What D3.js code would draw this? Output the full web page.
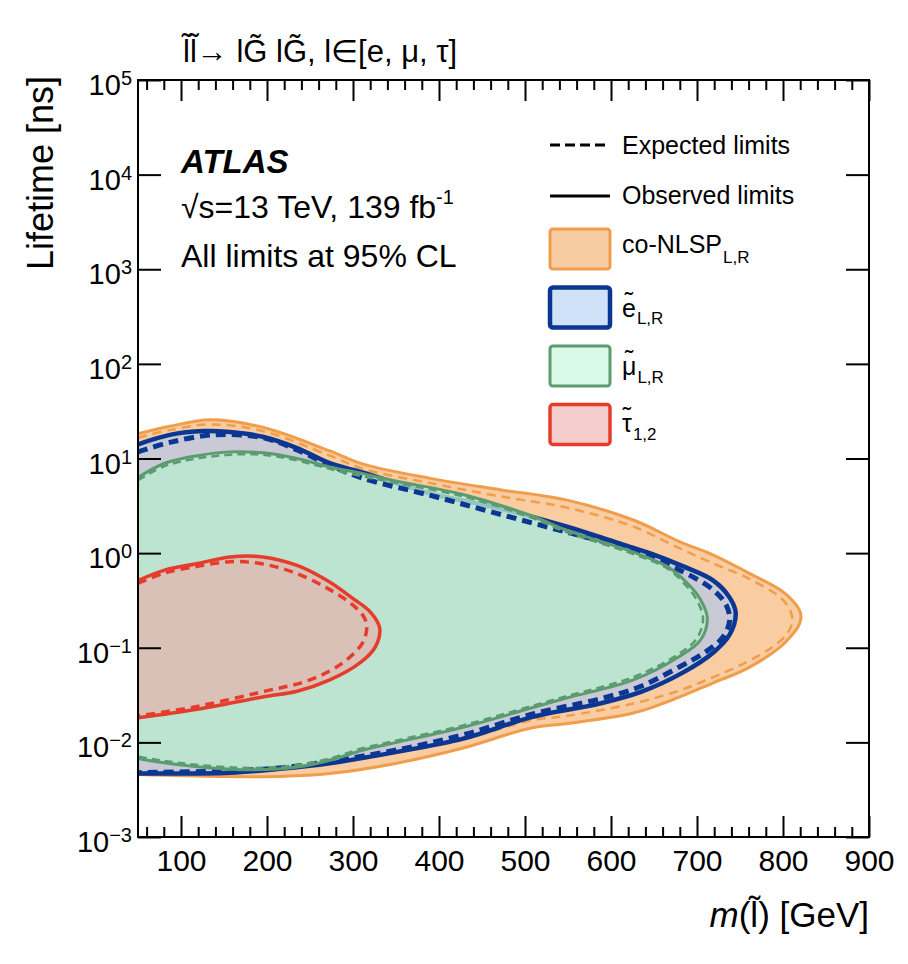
<!DOCTYPE html>
<html lang="en">
<head>
<meta charset="UTF-8">
<title>ATLAS slepton lifetime limits</title>
<style>
  body { margin: 0; background: #fff; }
  text { font-family: "Liberation Sans", Arial, Helvetica, sans-serif; fill: #000; }
</style>
</head>
<body>
<svg id="svg" width="908" height="964"></svg>
<script src="https://d3js.org/d3.v7.min.js"></script>
<script>
// contours: [mass GeV, log10(lifetime / ns)]
const coNlspObs = [[50,1.26],[87,1.34],[134,1.41],[195,1.33],[273,1.08],[312,0.94],[390,0.79],[471,0.67],[549,0.56],[626,0.35],[680,0.12],[719,-0.02],[758,-0.20],[797,-0.39],[811,-0.50],[819,-0.60],[821,-0.68],[818,-0.77],[809,-0.88],[797,-0.99],[758,-1.22],[719,-1.37],[680,-1.52],[626,-1.69],[549,-1.80],[506,-1.85],[428,-2.06],[351,-2.22],[273,-2.33],[215,-2.36],[145,-2.36],[50,-2.34]]
const coNlspExp = [[50,1.22],[87,1.30],[134,1.36],[195,1.29],[273,1.03],[312,0.89],[390,0.74],[471,0.60],[549,0.48],[626,0.28],[680,0.05],[719,-0.11],[758,-0.26],[797,-0.47],[808,-0.60],[811,-0.71],[805,-0.85],[788,-0.99],[758,-1.15],[719,-1.31],[680,-1.45],[626,-1.59],[549,-1.72],[506,-1.77],[428,-1.97],[351,-2.11],[273,-2.23],[215,-2.29],[145,-2.32],[50,-2.33]]
const selectronObs = [[50,1.15],[87,1.25],[126,1.29],[157,1.28],[195,1.23],[235,1.11],[273,0.95],[312,0.85],[390,0.63],[467,0.48],[549,0.28],[607,0.11],[645,0.00],[684,-0.14],[719,-0.29],[738,-0.47],[745,-0.63],[738,-0.86],[719,-1.05],[684,-1.26],[634,-1.47],[587,-1.59],[509,-1.73],[428,-1.96],[351,-2.10],[273,-2.22],[215,-2.28],[157,-2.32],[50,-2.33]]
const selectronExp = [[50,1.07],[87,1.17],[137,1.25],[195,1.22],[235,1.09],[273,0.93],[312,0.79],[390,0.61],[467,0.42],[549,0.22],[626,0.03],[680,-0.18],[719,-0.39],[734,-0.55],[738,-0.71],[730,-0.89],[709,-1.05],[680,-1.20],[634,-1.41],[587,-1.54],[509,-1.70],[428,-1.92],[351,-2.08],[273,-2.20],[215,-2.27],[157,-2.30],[50,-2.32]]
const smuonObs = [[50,0.80],[81,0.95],[119,1.03],[157,1.07],[195,1.06],[235,1.00],[273,0.91],[312,0.84],[351,0.76],[428,0.62],[506,0.40],[549,0.24],[626,0.01],[665,-0.14],[688,-0.31],[704,-0.49],[712,-0.69],[704,-0.92],[680,-1.09],[626,-1.34],[549,-1.53],[506,-1.64],[428,-1.84],[351,-2.00],[312,-2.08],[273,-2.19],[235,-2.26],[180,-2.29],[122,-2.26],[76,-2.21],[50,-2.17]]
const smuonExp = [[50,0.77],[81,0.92],[119,1.00],[157,1.04],[195,1.04],[235,0.98],[273,0.89],[312,0.81],[351,0.74],[428,0.60],[506,0.38],[549,0.22],[626,-0.01],[665,-0.16],[686,-0.33],[700,-0.50],[707,-0.69],[700,-0.90],[678,-1.07],[626,-1.31],[549,-1.51],[506,-1.62],[428,-1.82],[351,-1.98],[312,-2.06],[273,-2.17],[235,-2.24],[180,-2.27],[122,-2.24],[76,-2.19],[50,-2.15]]
const stauObs = [[50,-0.29],[81,-0.18],[119,-0.11],[157,-0.04],[195,-0.04],[235,-0.13],[270,-0.29],[300,-0.48],[320,-0.62],[331,-0.79],[326,-0.99],[308,-1.16],[273,-1.34],[235,-1.46],[195,-1.52],[119,-1.65],[50,-1.74]]
const stauExp = [[50,-0.32],[81,-0.21],[119,-0.14],[157,-0.09],[192,-0.11],[230,-0.20],[270,-0.37],[300,-0.55],[313,-0.68],[316,-0.79],[311,-0.95],[288,-1.16],[250,-1.34],[192,-1.47],[119,-1.62],[50,-1.72]]

const xMajorTicks = [100, 200, 300, 400, 500, 600, 700, 800, 900]
const xMinorTicks = d3.range(60, 900, 20).filter(v => v % 100 !== 0)
const yExponents = [-3, -2, -1, 0, 1, 2, 3, 4, 5]

const legendLabels = [
    { main: 'co-NLSP', sub: 'L,R', tilde: false },
    { main: 'e', sub: 'L,R', tilde: true },
    { main: '\u03BC', sub: 'L,R', tilde: true },
    { main: '\u03C4', sub: '1,2', tilde: true }
]

const svg = d3.select('#svg')
const L = 138, R = 869, T = 80, B = 837

const x = d3.scaleLinear().domain([50, 900]).range([L, R])
const y = d3.scaleLog().domain([1e-3, 1e5]).range([B, T])

const line = d3.line()
    .x(d => x(d[0]))
    .y(d => y(10 ** d[1]))
    .curve(d3.curveCatmullRom.alpha(0.5))

svg.append('clipPath').attr('id', 'clip')
    .append('rect').attr('x', L).attr('y', T).attr('width', R - L).attr('height', B - T)

const plot = svg.append('g').attr('clip-path', 'url(#clip)')

function fill(data, color, opacity) {
    plot.append('path').attr('d', line(data) + 'Z')
        .attr('fill', color).attr('fill-opacity', opacity || 1).attr('stroke', 'none')
}
function stroke(data, color, width, dash) {
    plot.append('path').attr('d', line(data))
        .attr('fill', 'none').attr('stroke', color).attr('stroke-width', width)
        .attr('stroke-dasharray', dash || null)
}

const orange = '#f09d4c', blue = '#0b3692', green = '#5c9b70', red = '#e63c2b'

fill(coNlspObs, '#f9cca2')
fill(selectronObs, '#c9cad5')
stroke(coNlspObs, orange, 3)
stroke(coNlspExp, orange, 2.5, '9,6')
stroke(selectronObs, blue, 4.5)
fill(smuonObs, '#b9eccf', 0.78)
stroke(selectronExp, blue, 5, '10,6')
stroke(smuonObs, green, 3)
stroke(smuonExp, green, 2.5, '8,5')
fill(stauObs, '#d9c1b7')
stroke(stauObs, red, 3.5)
stroke(stauExp, red, 3.5, '9,6')

// axes
function styleAxis(g) {
    g.select('.domain').remove()
    g.selectAll('line').attr('stroke', '#000').attr('stroke-width', 2)
}
svg.append('g').attr('transform', `translate(0,${B})`)
    .call(d3.axisBottom(x).tickValues(xMajorTicks).tickSizeInner(-21).tickSizeOuter(0).tickPadding(13))
    .call(styleAxis)
    .selectAll('text').attr('font-size', 30).attr('font-family', '"Liberation Sans", Arial, sans-serif')
svg.append('g').attr('transform', `translate(0,${B})`)
    .call(d3.axisBottom(x).tickValues(xMinorTicks).tickSizeInner(-10).tickSizeOuter(0).tickFormat(''))
    .call(styleAxis)
svg.append('g').attr('transform', `translate(0,${T})`)
    .call(d3.axisTop(x).tickValues(xMajorTicks).tickSizeInner(-21).tickSizeOuter(0).tickFormat(''))
    .call(styleAxis)
svg.append('g').attr('transform', `translate(0,${T})`)
    .call(d3.axisTop(x).tickValues(xMinorTicks).tickSizeInner(-10).tickSizeOuter(0).tickFormat(''))
    .call(styleAxis)

const yTicks = yExponents.map(e => 10 ** e)
svg.append('g').attr('transform', `translate(${L},0)`)
    .call(d3.axisLeft(y).tickValues(yTicks).tickSizeInner(-23).tickSizeOuter(0).tickFormat(''))
    .call(styleAxis)
svg.append('g').attr('transform', `translate(${R},0)`)
    .call(d3.axisRight(y).tickValues(yTicks).tickSizeInner(-23).tickSizeOuter(0).tickFormat(''))
    .call(styleAxis)

yExponents.forEach(e => {
    const t = svg.append('text')
        .attr('x', 132).attr('y', y(10 ** e) + 15)
        .attr('text-anchor', 'end').attr('font-size', 29)
    t.append('tspan').text('10')
    t.append('tspan').attr('font-size', 20).attr('dy', -10)
        .text(e < 0 ? '\u2212' + (-e) : e)
})

svg.append('rect').attr('x', L).attr('y', T).attr('width', R - L).attr('height', B - T)
    .attr('fill', 'none').attr('stroke', '#000').attr('stroke-width', 2)

// axis titles
svg.append('text')
    .attr('transform', `translate(53,76) rotate(-90)`)
    .attr('text-anchor', 'end').attr('font-size', 36)
    .text('Lifetime [ns]')

const xt = svg.append('text').attr('x', R).attr('y', 927)
    .attr('text-anchor', 'end').attr('font-size', 35)
xt.append('tspan').attr('font-style', 'italic').text('m')
xt.append('tspan').text('(l\u0303) [GeV]')

// title above frame
svg.append('text').attr('x', 183).attr('y', 62).attr('font-size', 31)
    .text('l\u0303l\u0303\u2192 lG\u0303 lG\u0303, l\u2208[e, \u03BC, \u03C4]')

// ATLAS labels
svg.append('text').attr('x', 181).attr('y', 173)
    .attr('font-size', 33).attr('font-weight', 'bold').attr('font-style', 'italic')
    .text('ATLAS')
const lumi = svg.append('text').attr('x', 181).attr('y', 218).attr('font-size', 32)
lumi.append('tspan').text('\u221As=13 TeV, 139 fb')
lumi.append('tspan').attr('font-size', 20).attr('dy', -14).text('-1')
svg.append('text').attr('x', 181).attr('y', 267).attr('font-size', 32)
    .text('All limits at 95% CL')

// legend
const lg = svg.append('g')
lg.append('line').attr('x1', 550).attr('x2', 610).attr('y1', 145).attr('y2', 145)
    .attr('stroke', '#000').attr('stroke-width', 3).attr('stroke-dasharray', '10,5')
lg.append('text').attr('x', 622).attr('y', 154).attr('font-size', 25).text('Expected limits')
lg.append('line').attr('x1', 550).attr('x2', 610).attr('y1', 196).attr('y2', 196)
    .attr('stroke', '#000').attr('stroke-width', 3)
lg.append('text').attr('x', 622).attr('y', 204).attr('font-size', 25).text('Observed limits')

const boxFill = ['#f8cca2', '#cfe2f8', '#d9f8e6', '#f6cdcd']
const boxStroke = [orange, blue, green, red]
const boxWidth = [3, 4.5, 3, 3.5]
const mainBase = [253, 317, 375, 432]
const subBase = [263, 324, 383, 440]
const tx = 622
legendLabels.forEach((d, i) => {
    const top = 229 + i * 58.5
    lg.append('rect').attr('x', 550).attr('y', top).attr('width', 60).attr('height', 40)
        .attr('rx', 3).attr('fill', boxFill[i]).attr('stroke', boxStroke[i]).attr('stroke-width', boxWidth[i])
    const t = lg.append('text').attr('x', tx).attr('y', mainBase[i]).attr('font-size', 25)
    const base = t.append('tspan').text(d.main)
    const w = base.node().getComputedTextLength()
    let lift = 0
    if (d.tilde) {
        lift = 7
        const tl = t.append('tspan').attr('dy', -lift).text('\u02DC')
        const tw = tl.node().getComputedTextLength()
        tl.attr('x', tx + w / 2 - tw / 2)
    }
    t.append('tspan').attr('x', tx + w + 1).attr('font-size', 17)
        .attr('dy', subBase[i] - mainBase[i] + lift).text(d.sub)
})
</script>
</body>
</html>
